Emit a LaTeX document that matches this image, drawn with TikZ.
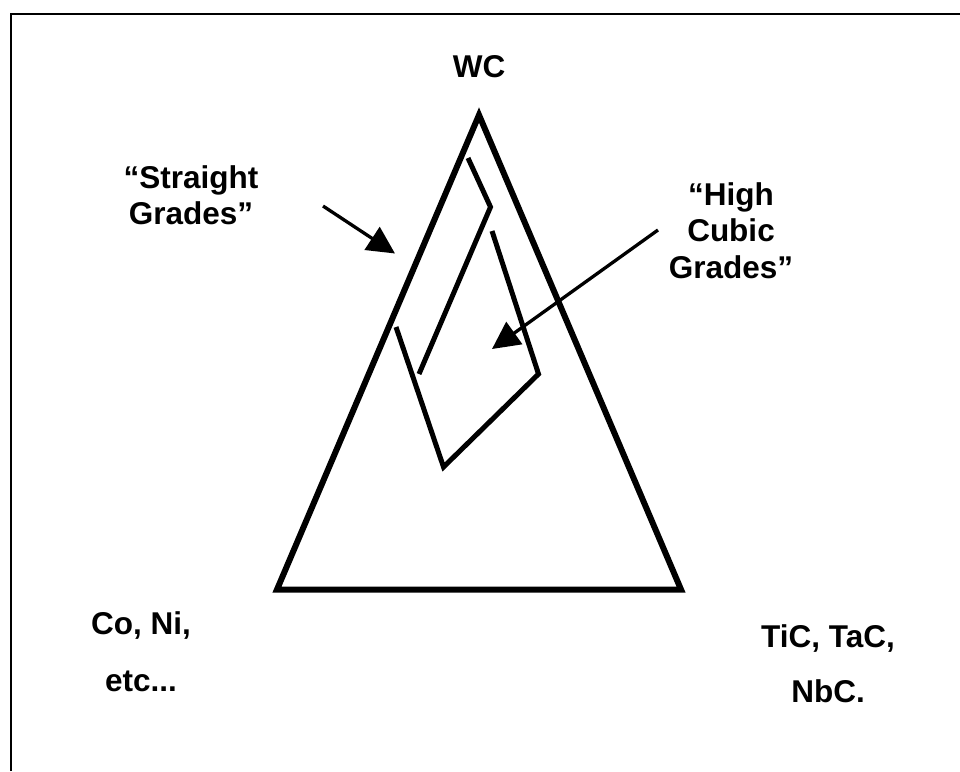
\documentclass[tikz,border=0pt]{standalone}
\usepackage{fontspec}
\setmainfont{Liberation Sans}
\usetikzlibrary{arrows.meta}
\tikzset{
  lbl/.style={font=\fontsize{31.5}{36.5}\selectfont\bfseries, inner sep=0pt, align=center},
  tri/.style={line width=6pt, line join=miter},
  inner/.style={line width=5pt, line join=miter, line cap=butt},
  pointer/.style={line width=3.3pt, -{Triangle[length=27.5pt, width=27pt]}},
  frame/.style={line width=2pt, line join=miter}
}
\begin{document}
\begin{tikzpicture}[x=1pt,y=-1pt]
\useasboundingbox (0,0) rectangle (960,771);
% frame
\draw[frame] (11,771) -- (11,14) -- (960,14);
% triangle
\coordinate (apex) at (479,115);
\coordinate (bl) at (277,589.5);
\coordinate (br) at (681,589.5);
\draw[tri] (apex) -- (bl) -- (br) -- cycle;
% inner region lines
\coordinate (p1a) at (468,158);
\coordinate (p1b) at (490.5,207);
\coordinate (p1c) at (419,374);
\draw[inner] (p1a) -- (p1b) -- (p1c);
\coordinate (p2a) at (396,327);
\coordinate (p2b) at (443.5,467);
\coordinate (p2c) at (538.5,374);
\coordinate (p2d) at (492,231);
\draw[inner] (p2a) -- (p2b) -- (p2c) -- (p2d);
% labels
\node[lbl, anchor=base] (wc) at (479,77) {WC};
\node[lbl, anchor=north] (sg) at (191,165) {“Straight\\Grades”};
\node[lbl, anchor=north] (hc) at (731,182) {“High\\Cubic\\Grades”};
\node[lbl, anchor=north, font=\fontsize{31.5}{57}\selectfont\bfseries] (coni) at (141,611) {Co, Ni,\\etc...};
\node[lbl, anchor=north, font=\fontsize{31.5}{55}\selectfont\bfseries] (tic) at (828,624) {TiC, TaC,\\NbC.};
% arrows
\coordinate (a1s) at (323,206);
\coordinate (a1t) at (395,253.5);
\coordinate (a2s) at (658,230);
\coordinate (a2t) at (492,349);
\draw[pointer] (a1s) -- (a1t);
\draw[pointer] (a2s) -- (a2t);
\end{tikzpicture}
\end{document}
